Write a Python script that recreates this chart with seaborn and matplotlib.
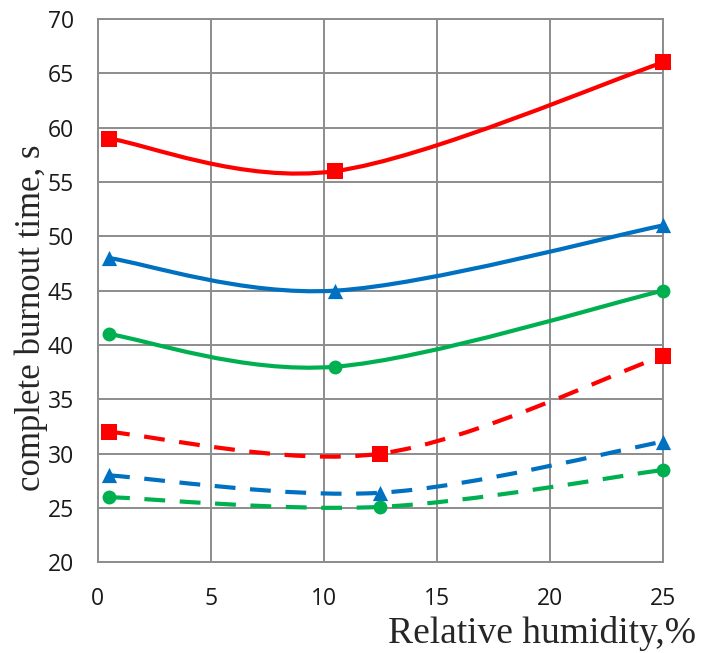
import matplotlib.pyplot as plt
import seaborn as sns
from matplotlib.path import Path
from matplotlib.patches import PathPatch

# humidity values (%) of the measured points
humidity_a = [0.5, 10.5, 25]
humidity_b = [0.5, 12.5, 25]

# complete burnout time (s), solid series
red_solid = [59, 56, 66]
blue_solid = [48, 45, 51]
green_solid = [41, 38, 45]

# complete burnout time (s), dashed series
red_dash = [32, 30, 39]
blue_dash = [28, 26.4, 31.1]
green_dash = [26, 25.1, 28.5]

x_ticks = [0, 5, 10, 15, 20, 25]
y_ticks = [20, 25, 30, 35, 40, 45, 50, 55, 60, 65, 70]

RED = "#FF0000"
BLUE = "#0070C0"
GREEN = "#00B050"
GRID = "#8c8c8c"

sns.set_style("white")
plt.rcParams["font.family"] = ["Open Sans", "DejaVu Sans"]


def smooth_path(x, y):
    # excel-like smoothed line: cubic bezier through the points
    pts = list(zip(x, y))
    n = len(pts)
    verts = [pts[0]]
    codes = [Path.MOVETO]
    for i in range(n - 1):
        p0 = pts[i - 1] if i > 0 else pts[i]
        p1 = pts[i]
        p2 = pts[i + 1]
        p3 = pts[i + 2] if i + 2 < n else pts[i + 1]
        c1 = (p1[0] + (p2[0] - p0[0]) / 6, p1[1] + (p2[1] - p0[1]) / 6)
        c2 = (p2[0] - (p3[0] - p1[0]) / 6, p2[1] - (p3[1] - p1[1]) / 6)
        verts += [c1, c2, p2]
        codes += [Path.CURVE4, Path.CURVE4, Path.CURVE4]
    return Path(verts, codes)


series = [
    (humidity_a, red_solid, RED, "s", 117, "-"),
    (humidity_a, blue_solid, BLUE, "^", 120, "-"),
    (humidity_a, green_solid, GREEN, "o", 100, "-"),
    (humidity_b, red_dash, RED, "s", 117, "--"),
    (humidity_b, blue_dash, BLUE, "^", 120, "--"),
    (humidity_b, green_dash, GREEN, "o", 100, "--"),
]

fig = plt.figure(figsize=(7.01, 6.53), dpi=100)
ax = fig.add_axes([97.7 / 701, 1 - 562.3 / 653, 565.3 / 701, 543.3 / 653])

for x, y, color, marker, size, style in series:
    patch = PathPatch(smooth_path(x, y), facecolor="none", edgecolor=color,
                      lw=3, zorder=3)
    if style == "--":
        patch.set_linestyle((0, (5, 3.5)))
    ax.add_patch(patch)
    sns.scatterplot(x=x, y=y, color=color, marker=marker, s=size,
                    linewidth=0, zorder=4, clip_on=False, ax=ax)

ax.set_xlim(0, 25)
ax.set_ylim(20, 70)
ax.set_xticks(x_ticks)
ax.set_yticks(y_ticks)
ax.grid(True, color=GRID, lw=1.4)
ax.set_axisbelow(True)
for sp in ax.spines.values():
    sp.set_color(GRID)
    sp.set_linewidth(1.4)

ax.tick_params(axis="both", length=7, width=1.4, color=GRID,
               labelsize=16.5, labelcolor="#1a1a1a")
ax.tick_params(axis="y", pad=10)
ax.tick_params(axis="x", pad=11)

ax.set_xlabel("")
ax.set_ylabel("")
fig.text(31 / 701, 1 - 318 / 653, "complete burnout time, s", rotation=90,
         ha="center", va="center", fontsize=25, family="Liberation Serif")
fig.text(696 / 701, 1 - 643 / 653, "Relative humidity,%", ha="right",
         va="baseline", fontsize=27, family="Liberation Serif")

plt.savefig("out.png", dpi=100)
